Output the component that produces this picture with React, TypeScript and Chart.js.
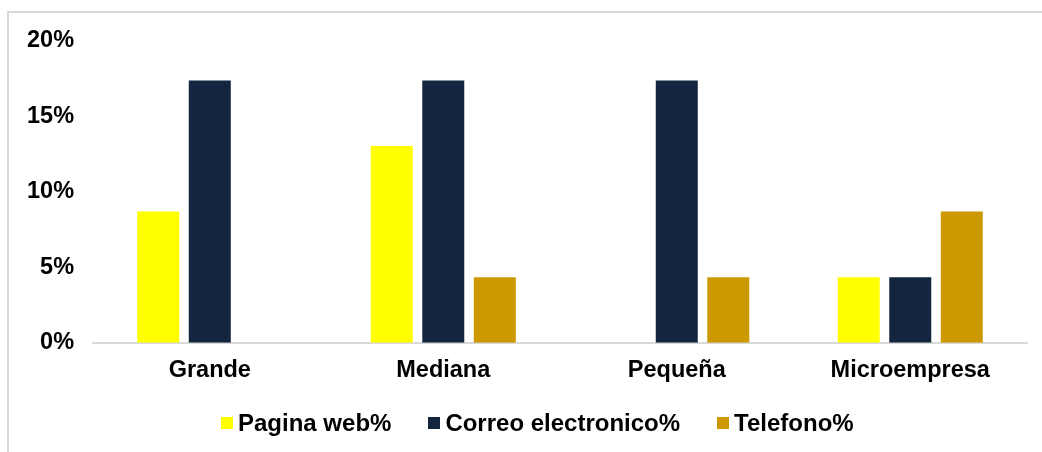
import React, { useEffect, useRef } from "react";
import { Chart, registerables } from "chart.js";

Chart.register(...registerables);

const categories = ["Grande", "Mediana", "Pequeña", "Microempresa"];
const paginaWeb = [8.7, 13.04, 0, 4.35];
const correo = [17.39, 17.39, 17.39, 4.35];
const telefono = [0, 4.35, 4.35, 8.7];
const seriesNames = ["Pagina web%", "Correo electronico%", "Telefono%"];
const seriesColors = ["#FFFF00", "#13253F", "#CC9900"];
const yTicks = [0, 5, 10, 15, 20];

const FONT = "'Liberation Sans', Arial, sans-serif";
const FSIZE = 23.5;

export default function App() {
  const ref = useRef<HTMLCanvasElement>(null);
  useEffect(() => {
    if (!ref.current) return;
    const chart = new Chart(ref.current, {
      type: "bar",
      data: {
        labels: categories,
        datasets: [
          { label: seriesNames[0], data: paginaWeb, backgroundColor: seriesColors[0] },
          { label: seriesNames[1], data: correo, backgroundColor: seriesColors[1] },
          { label: seriesNames[2], data: telefono, backgroundColor: seriesColors[2] },
        ],
      },
      options: {
        animation: false,
        responsive: false,
        maintainAspectRatio: false,
        datasets: { bar: { categoryPercentage: 0.662, barPercentage: 0.815 } },
        layout: { padding: { top: 41, left: 8, right: 15, bottom: 53 } },
        plugins: {
          tooltip: { enabled: false },
          legend: { display: false },
        },
        scales: {
          x: {
            grid: { display: false, drawTicks: false },
            border: { display: true, color: "#D9D9D9", width: 2 },
            ticks: {
              padding: 14,
              color: "#000",
              font: { family: FONT, size: FSIZE, weight: "bold" },
            },
          },
          y: {
            min: 0,
            max: 20,
            afterBuildTicks: (axis: any) => {
              axis.ticks = yTicks.map((v) => ({ value: v }));
            },
            grid: { display: false, drawTicks: false },
            border: { display: false },
            ticks: {
              padding: 19,
              color: "#000",
              font: { family: FONT, size: FSIZE, weight: "bold" },
              callback: (v: any) => v + "%",
            },
          },
        },
      },
    });
    return () => chart.destroy();
  }, []);

  return (
    <div style={{ position: "fixed", left: 0, top: 0, width: 1042, height: 452, overflow: "hidden", background: "#fff" }}>
      <div
        style={{
          position: "absolute",
          left: 7,
          top: 11,
          width: 1200,
          height: 600,
          border: "2px solid #D9D9D9",
          boxSizing: "border-box",
        }}
      />
      <canvas ref={ref} width={1042} height={452} style={{ position: "absolute", left: 0, top: 0 }} />
      <div
        style={{
          position: "absolute",
          left: 221,
          top: 423,
          transform: "translateY(-50%)",
          display: "flex",
          alignItems: "center",
          gap: 37,
          fontFamily: FONT,
          fontWeight: "bold",
          fontSize: 24,
          color: "#000",
          whiteSpace: "nowrap",
          lineHeight: 1,
        }}
      >
        {seriesNames.map((n, i) => (
          <div key={n} style={{ display: "flex", alignItems: "center" }}>
            <span style={{ display: "inline-block", width: 12, height: 12, background: seriesColors[i], marginRight: 5 }} />
            <span>{n}</span>
          </div>
        ))}
      </div>
    </div>
  );
}
